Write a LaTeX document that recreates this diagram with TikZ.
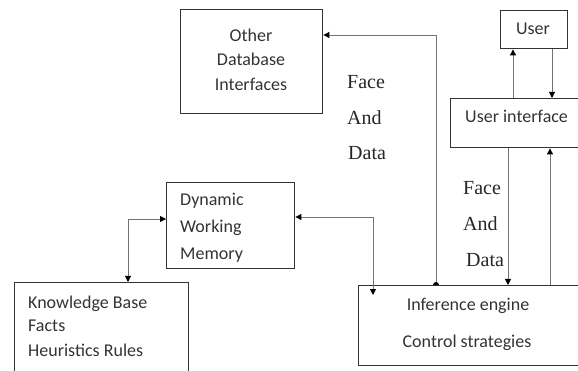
\documentclass[tikz,border=0pt]{standalone}
\usepackage{fontspec}
\setmainfont{Carlito}
\newfontfamily\tnr{Liberation Serif}
\usetikzlibrary{arrows.meta,calc}
\begin{document}
\begin{tikzpicture}[x=1pt,y=-1pt,
  box/.style={draw=black!80, line width=1.4pt, inner sep=0pt, anchor=north west},
  conn/.style={draw=black!55, line width=0.9pt},
  tipa/.style={-{Triangle[length=6pt,width=6pt,color=black]}},
  tipb/.style={{Triangle[length=6pt,width=6pt,color=black]}-{Triangle[length=6pt,width=6pt,color=black]}},
  lbl/.style={text=black!80, inner sep=0pt, font=\fontsize{18}{20}\selectfont},
  fad/.style={text=black!85, inner sep=0pt, anchor=base west, font=\tnr\fontsize{20}{22}\selectfont}]
\useasboundingbox (0,0) rectangle (578,371);
% boxes
\node[box, minimum width=142pt, minimum height=104pt] (odb) at (180,9) {};
\node[box, minimum width=67pt, minimum height=38pt] (user) at (500,10) {};
\node[box, minimum width=140pt, minimum height=49pt] (ui) at (450,98) {};
\node[box, minimum width=230pt, minimum height=80pt] (ie) at (358,285) {};
\node[box, minimum width=128pt, minimum height=86pt] (dwm) at (166,182) {};
\node[box, minimum width=174pt, minimum height=110pt] (kb) at (14,282) {};
% texts
\node[lbl, anchor=base] (t1) at (251,42) {Other};
\node[lbl, anchor=base] (t2) at (251,66) {Database};
\node[lbl, anchor=base] (t3) at (251,91) {Interfaces};
\node[lbl, anchor=base] (t4) at (533,35) {User};
\node[lbl, anchor=base west] (t5) at (465,123) {User interface};
\node[lbl, anchor=base west] (t6) at (180,206) {Dynamic};
\node[lbl, anchor=base west] (t7) at (180,233) {Working};
\node[lbl, anchor=base west] (t8) at (180,260) {Memory};
\node[lbl, anchor=base west] (t9) at (28,308) {Knowledge Base};
\node[lbl, anchor=base west] (t10) at (28,331) {Facts};
\node[lbl, anchor=base west] (t11) at (28,356) {Heuristics Rules};
\node[lbl, anchor=base] (t12) at (468,310) {Inference engine};
\node[lbl, anchor=base] (t13) at (467,347) {Control strategies};
\node[fad] (f1) at (347,89) {Face};
\node[fad] (f2) at (347,125) {And};
\node[fad] (f3) at (348,160) {Data};
\node[fad] (f4) at (463,195) {Face};
\node[fad] (f5) at (463,231) {And};
\node[fad] (f6) at (466,266) {Data};
% connectors
\coordinate (c1) at (436,35);
\draw[conn, tipa] (ie.north -| c1) -- (c1) -- (c1 -| odb.east);
\fill[black] ($(ie.north -| c1)+(-3,0)$) arc[start angle=180, end angle=0, radius=3pt];
\coordinate (c2) at (373,217);
\coordinate (c3) at (373,295);
\draw[conn, tipb] (c2 -| dwm.east) -- (c2) -- (c3);
\coordinate (c4) at (128,219);
\draw[conn, tipb] (c4 |- kb.north) -- (c4) -- (c4 -| dwm.west);
\coordinate (c5) at (508,0);
\draw[conn, tipa] (c5 |- ui.south) -- (c5 |- ie.north);
\coordinate (c6) at (550,0);
\draw[conn, tipa] (c6 |- ie.north) -- (c6 |- ui.south);
\coordinate (c7) at (552,0);
\draw[conn, tipa] (c7 |- user.south) -- (c7 |- ui.north);
\coordinate (c8) at (513,0);
\draw[conn, tipa] (c8 |- ui.north) -- (c8 |- user.south);
\end{tikzpicture}
\end{document}
